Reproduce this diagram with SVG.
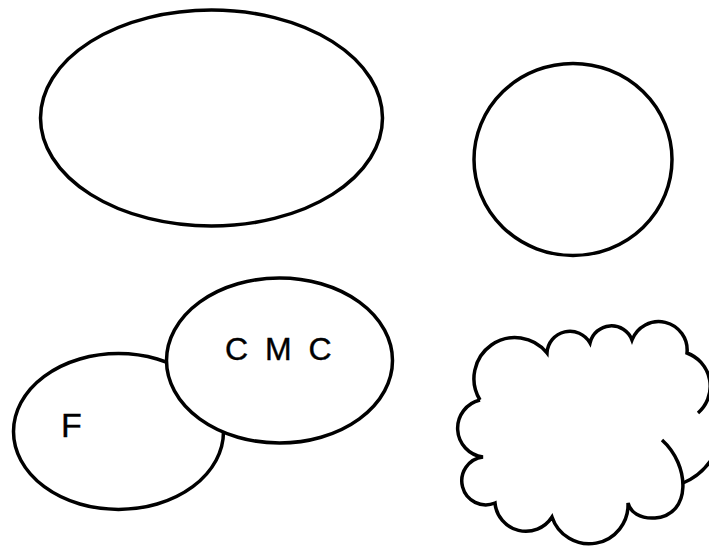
<svg xmlns="http://www.w3.org/2000/svg" width="709" height="550" viewBox="0 0 709 550">
<style>
.s{fill:#fff;stroke:#000;stroke-width:3.5}
.c{fill:none;stroke:#000;stroke-width:3.5;stroke-linecap:butt}
.t{font-family:"Liberation Sans",Arial,sans-serif;fill:#000;stroke:#000;stroke-width:0.4}
</style>
<rect width="709" height="550" fill="#fff"/>
<g id="ellipse-top-left"><ellipse class="s" cx="211.5" cy="118" rx="171" ry="108"/></g>
<g id="ellipse-top-right"><ellipse class="s" cx="573" cy="159.5" rx="99" ry="96"/></g>
<g id="node-F"><ellipse class="s" cx="118.5" cy="431.5" rx="105" ry="78"/><text class="t" x="61" y="437" font-size="34">F</text></g>
<g id="node-CMC"><ellipse class="s" cx="279.5" cy="360.5" rx="113" ry="82.5"/><text class="t" x="225" y="360" font-size="32" letter-spacing="4">C M C</text></g>
<g id="cloud">
<path class="c" d="M480,400 A41 41 0 0 1 547,353 A23 23 0 0 1 590,343 A22 22 0 0 1 632,340 A28.5 28.5 0 0 1 687,353 A35.4 35.4 0 0 1 698,413"/>
<path class="c" d="M724,430 Q714,470 683,483"/>
<path class="c" d="M662,440 C690,465 692,515 655,518 C640,519 630,512 628,503 A39 39 0 0 1 552,517 A31 31 0 0 1 495,503 A24 24 0 1 1 483,457 A29 29 0 0 1 480,400"/>
</g>
</svg>
